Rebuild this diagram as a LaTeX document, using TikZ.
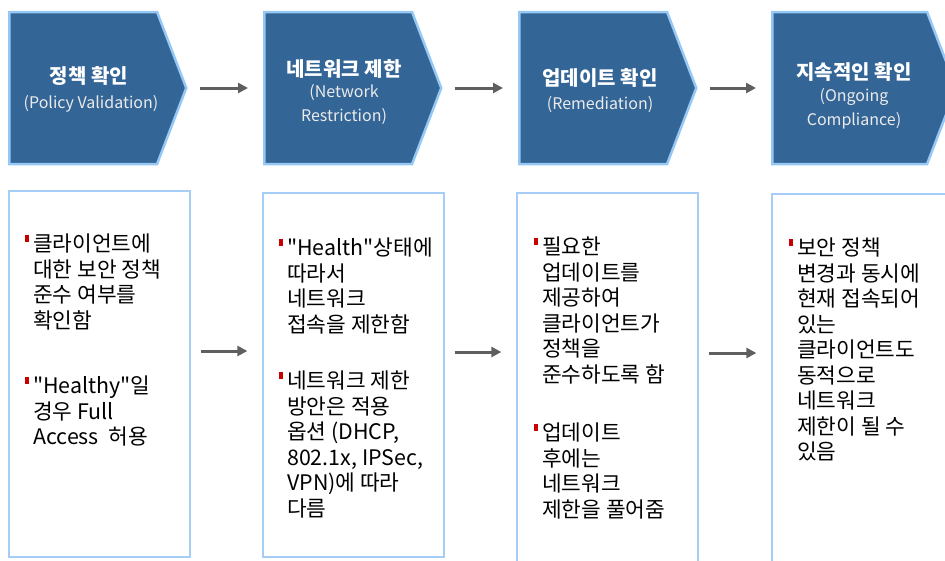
\documentclass[tikz,border=0pt]{standalone}
\usepackage{fontspec}
\setmainfont{Noto Sans CJK KR}[Ligatures=TeXOff]
\usetikzlibrary{shapes.symbols,arrows.meta}
\definecolor{penfill}{RGB}{51,101,150}
\definecolor{penline}{RGB}{150,200,245}
\definecolor{boxline}{RGB}{165,205,245}
\definecolor{arrgray}{RGB}{95,95,95}
\definecolor{bulred}{RGB}{200,0,0}
\newcommand{\bul}{\leavevmode\llap{\textcolor{bulred}{\rule[10pt]{4pt}{7pt}}\hspace{4pt}}}
\tikzset{
  pent/.style={shape=signal, signal to=east, signal pointer angle=138,
    fill=penfill, draw=penline, line width=2.5pt, anchor=west,
    minimum width=177pt, minimum height=152pt, inner sep=0pt},
  ttl/.style={text=white, font=\bfseries\fontsize{20}{24}\selectfont, inner sep=0pt},
  sub/.style={text=white!92!black, font=\fontsize{16}{24}\selectfont, align=center, inner sep=0pt},
  bbox/.style={draw=boxline, line width=1.3pt, fill=white, minimum width=181pt, inner sep=0pt},
  bodytext/.style={anchor=north west, inner sep=0pt, align=left,
    font=\fontsize{21.4}{25.5}\selectfont, text=black},
  arr/.style={draw=arrgray, line width=3pt, -{Triangle[length=10pt,width=10pt]}}
}
\begin{document}
\begin{tikzpicture}[x=1pt,y=-1pt]
\useasboundingbox (0,0) rectangle (945,560);
\clip (0,0) rectangle (945,560);
% pentagons
\node[pent] (p1) at (8,88) {};
\node[pent] (p2) at (263,88) {};
\node[pent] (p3) at (518,88) {};
\node[pent, minimum width=184pt] (p4) at (771,88) {};
% titles
\node[ttl] (h1) at (89,76) {정책 확인};
\node[sub] (s1) at (91,104) {(Policy Validation)};
\node[ttl] (h2) at (344,69) {네트워크 제한};
\node[sub] (s2) at (344,105) {(Network\\Restriction)};
\node[ttl] (h3) at (600,78) {업데이트 확인};
\node[sub] (s3) at (600,105) {(Remediation)};
\node[ttl] (h4) at (854,72) {지속적인 확인};
\node[sub] (s4) at (854,109) {(Ongoing\\Compliance)};
% top arrows
\draw[arr, shorten <=12pt, shorten >=15pt] (p1.east) -- (p1.east -| p2.west);
\draw[arr, shorten <=12pt, shorten >=15pt] (p2.east) -- (p2.east -| p3.west);
\draw[arr, shorten <=12pt, shorten >=15pt] (p3.east) -- (p3.east -| p4.west);
% boxes
\node[bbox, minimum height=366pt] (b1) at (99.5,374) {};
\node[bbox, minimum height=364pt] (b2) at (353.5,375) {};
\node[bbox, minimum height=380pt] (b3) at (607.5,383) {};
\node[bbox, minimum height=380pt, minimum width=200pt] (b4) at (872,384) {};
% bottom arrows
\draw[arr, shorten <=10pt, shorten >=15pt] ([yshift=23pt]b1.east) -- ([yshift=23pt]b1.east -| b2.west);
\draw[arr, shorten <=10pt, shorten >=15pt] ([yshift=23pt]b2.east) -- ([yshift=23pt]b2.east -| b3.west);
\draw[arr, shorten <=10pt, shorten >=15pt] ([yshift=30pt]b3.east) -- ([yshift=30pt]b3.east -| b4.west);
% body texts
\node[bodytext] (t1a) at (33,234) {\bul 클라이언트에\\대한 보안 정책\\준수 여부를\\확인함};
\node[bodytext] (t1b) at (33,376) {\bul "Healthy"일\\경우 Full\\Access~~허용};
\node[bodytext] (t2a) at (287,238) {\bul "Health"상태에\\따라서\\네트워크\\접속을 제한함};
\node[bodytext] (t2b) at (287,371) {\bul 네트워크 제한\\방안은 적용\\옵션 (DHCP,\\802.1x, IPSec,\\VPN)에 따라\\다름};
\node[bodytext] (t3a) at (542,237) {\bul 필요한\\업데이트를\\제공하여\\클라이언트가\\정책을\\준수하도록 함};
\node[bodytext] (t3b) at (542,423) {\bul 업데이트\\후에는\\네트워크\\제한을 풀어줌};
\node[bodytext] (t4a) at (797,238) {\bul 보안 정책\\변경과 동시에\\현재 접속되어\\있는\\클라이언트도\\동적으로\\네트워크\\제한이 될 수\\있음};
\end{tikzpicture}
\end{document}
